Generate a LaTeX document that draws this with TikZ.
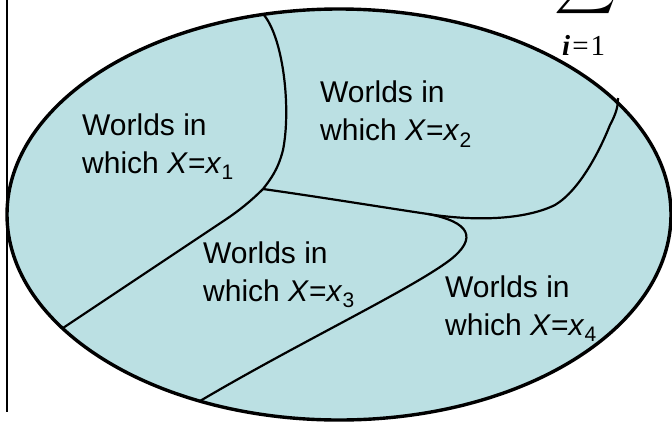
\documentclass[tikz,border=0pt]{standalone}
\usepackage{amsmath}
\usepackage{graphicx}
\usepackage{fontspec}
\setmainfont{Liberation Sans}
\newfontfamily\limitfont{Liberation Serif}
\usepackage{xcolor}
\usepackage{tikz}
\usetikzlibrary{positioning, calc}
\definecolor{worldfill}{RGB}{187,224,227}

\begin{document}
\begin{tikzpicture}[x=1pt, y=-1pt,
        world/.style={anchor=north west, inner sep=0pt, align=left, font={\fontsize{30}{38}\selectfont}},
        border/.style={line width=3.4pt, draw=black},
        split/.style={line width=2.2pt, draw=black}
    ]
        \useasboundingbox (0,0) rectangle (672,421);
        % Sample space
        \fill[worldfill] (339,214.5) ellipse [x radius=332pt, y radius=205.5pt];
        % Corner points of the regions
        \coordinate (topA) at (264,15);
        \coordinate (junc) at (263,189);
        \coordinate (leftB) at (63,328);
        \coordinate (fork) at (428,214);
        \coordinate (rightC) at (618,98);
        \coordinate (bottomD) at (200,401);
        % Region borders
        \draw [split] (topA) .. controls (284,40) and (291,110) .. (283,150) .. controls (278,170) and (270,180) .. (junc);
        \draw [split] (junc) .. controls (252,200) and (240,210) .. (225,220) -- (leftB);
        \draw [split] (junc) .. controls (320,197) and (400,210) .. (fork) .. controls (465,220) and (520,222) .. (555,205) .. controls (580,190) and (600,150) .. (610,125) .. controls (617,112) and (618,105) .. (rightC);
        \draw [split] (fork) .. controls (470,222) and (478,238) .. (450,260) .. controls (410,290) and (300,342) .. (bottomD);
        \draw [border] (339,214.5) ellipse [x radius=332pt, y radius=205.5pt];
        % Left rule
        \coordinate (ruleTop) at (7,0);
        \coordinate (ruleBot) at (7,412);
        \draw [line width=2.6pt] (ruleTop) -- (ruleBot);
        % Labels
        \node (w1) [world] at (82,113.5) {Worlds in\\which \textit{X}=\textit{x}\textsubscript{1}};
        \node (w2) [world] at (320,81) {Worlds in\\which \textit{X}=\textit{x}\textsubscript{2}};
        \node (w3) [world] at (203,241.5) {Worlds in\\which \textit{X}=\textit{x}\textsubscript{3}};
        \node (w4) [world] at (445,275.5) {Worlds in\\which \textit{X}=\textit{x}\textsubscript{4}};
        % Sum sign, cut at the top
        \node (sigma) [anchor=south, inner sep=0pt] at (586,18) {\resizebox{62pt}{!}{$\displaystyle\sum$}};
        \node (limit) [anchor=base west, inner sep=0pt] at (562,55) {\fontsize{29}{29}\limitfont\textbf{\textit{i}}\kern2pt=\kern2pt1};
    \end{tikzpicture}
\end{document}
